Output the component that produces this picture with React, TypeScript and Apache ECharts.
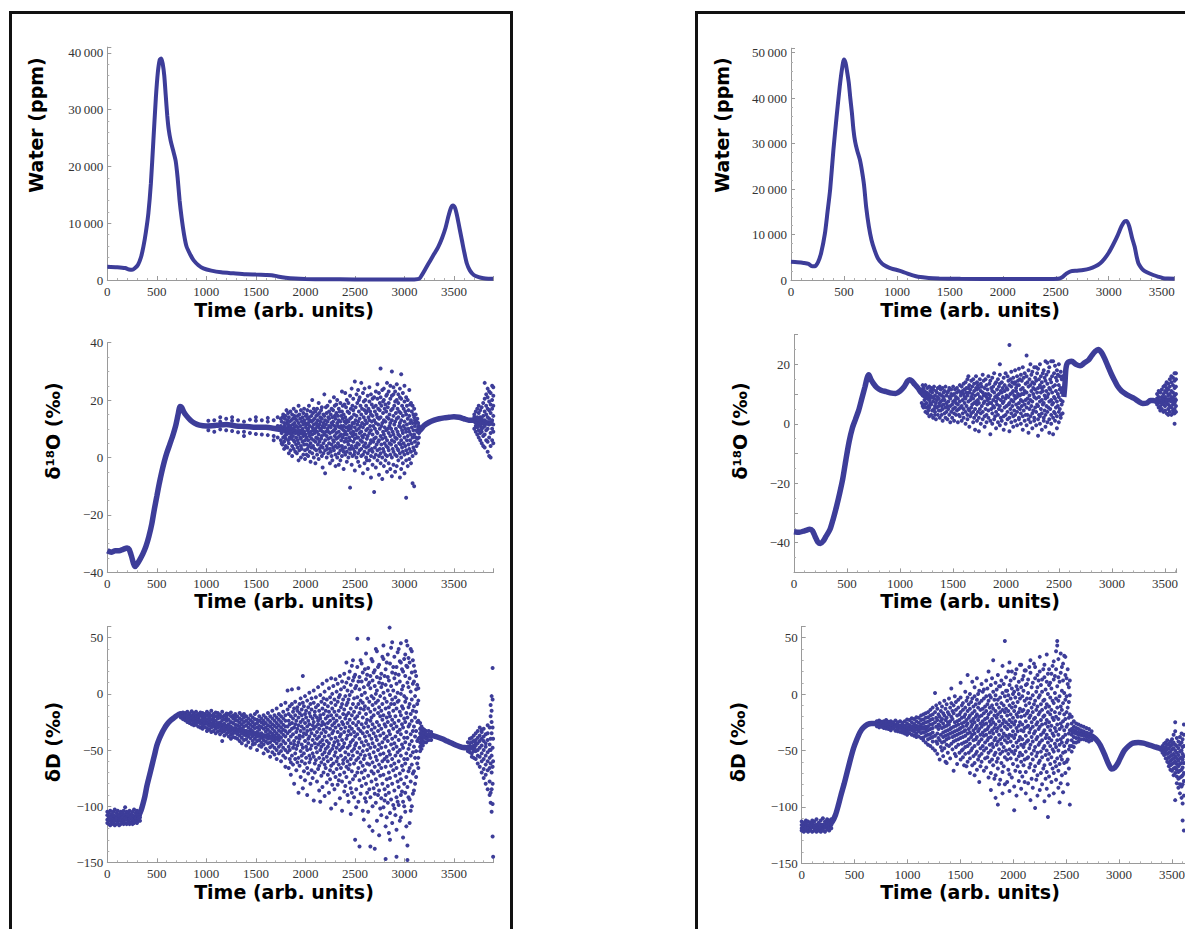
import React, { useEffect, useRef } from 'react';
import * as echarts from 'echarts';

// ---------- DATA ----------
const waterLeft: [number, number][] = [
  [0, 2350], [100, 2250], [180, 2100], [220, 1850], [250, 1800], [280, 2100], [310, 2700], [340, 4000],
  [365, 5900], [390, 8500], [415, 11800], [440, 17000], [465, 24500], [490, 32000], [510, 36500],
  [530, 38800], [545, 39000], [560, 38000], [575, 36000], [590, 32500], [605, 29000], [620, 26500],
  [640, 24500], [665, 22800], [690, 21000], [710, 18000], [730, 14000], [750, 11000], [775, 8000],
  [800, 5900], [840, 4400], [870, 3500], [920, 2600], [970, 2050], [1050, 1650], [1150, 1350],
  [1273, 1170], [1400, 1000], [1500, 950], [1600, 900], [1660, 850], [1720, 620], [1800, 400],
  [1900, 250], [2000, 180], [2200, 130], [2500, 100], [2800, 100], [3100, 110], [3150, 250],
  [3180, 1000], [3220, 2200], [3260, 3400], [3300, 4600], [3340, 5800], [3380, 7400], [3415, 9200],
  [3445, 11300], [3470, 12700], [3490, 13100], [3510, 12700], [3530, 11400], [3555, 9200],
  [3580, 7000], [3605, 4800], [3630, 2900], [3660, 1700], [3700, 880], [3750, 500], [3800, 300],
  [3850, 230], [3895, 200],
];

const waterRight: [number, number][] = [
  [0, 4000], [60, 3900], [120, 3750], [165, 3550], [195, 3050], [225, 3000], [255, 3900], [285, 6000],
  [320, 10200], [345, 15000], [370, 20000], [400, 28500], [430, 35800], [460, 42500], [480, 46200],
  [500, 48500], [515, 47800], [530, 45800], [545, 43500], [560, 40000], [575, 36800], [590, 33000],
  [605, 30500], [625, 28500], [650, 26500], [670, 24000], [690, 20800], [710, 16000], [735, 11800],
  [760, 8800], [790, 6500], [820, 4800], [860, 3600], [900, 3000], [950, 2500], [1000, 2200],
  [1050, 1850], [1100, 1400], [1150, 1000], [1200, 700], [1300, 450], [1400, 350], [1600, 250],
  [2000, 200], [2400, 200], [2520, 250], [2560, 600], [2600, 1400], [2640, 1900], [2700, 2050],
  [2760, 2200], [2820, 2500], [2870, 2950], [2920, 3700], [2960, 4700], [3000, 6000], [3040, 7700],
  [3080, 9600], [3120, 11800], [3150, 12900], [3170, 13000], [3195, 11700], [3220, 9300],
  [3245, 7300], [3265, 5000], [3280, 3700], [3300, 2900], [3325, 2200], [3360, 1700], [3420, 1100],
  [3470, 700], [3515, 400], [3560, 330], [3620, 300],
];

const o18LeftLineA: [number, number][] = [
  [0, -32.5], [40, -33], [80, -32.5], [120, -32.5], [160, -32], [200, -31.5], [220, -32], [245, -34.5],
  [265, -37], [280, -38], [300, -37.2], [330, -35.5], [360, -33.5], [390, -31], [420, -27.5],
  [450, -23], [475, -18], [500, -13.5], [525, -9], [550, -5], [575, -1.5], [600, 1.5], [630, 4.5],
  [660, 7.5], [690, 11], [715, 15], [735, 17.8], [750, 17.5], [770, 16], [800, 14.5], [840, 13],
  [880, 12], [930, 11.3], [1000, 11], [1100, 11.2], [1200, 11.5], [1300, 11], [1400, 10.8],
  [1500, 10.5], [1600, 10.5], [1700, 10], [1800, 9.5], [1900, 9], [2000, 8.5],
];
const o18LeftLineB: [number, number][] = [
  [3140, 9], [3170, 10], [3200, 11.2], [3250, 12.3], [3300, 13], [3350, 13.5], [3400, 13.8],
  [3450, 14], [3500, 14.2], [3550, 14], [3600, 13.5], [3650, 13], [3700, 13], [3750, 12.8],
  [3800, 12], [3850, 12], [3900, 12],
];
const o18LeftCloud: [number, number[]][] = [
  [1020, [9.5, 12.8]], [1080, [13, 9]], [1140, [12.5, 9.8, 14]], [1200, [13.5, 9.5]],
  [1260, [12.8, 9.2, 14]], [1320, [13, 8.8]], [1380, [12.5, 9, 7.5]], [1440, [13.2, 8.5]],
  [1500, [12.8, 8.2, 14]], [1560, [13, 8]], [1620, [12.5, 7.8, 13.8]], [1680, [13, 7.5, 6]],
  [1720, [14, 7, 11]],
  [1752, [6, 11, 13.5]], [1760, [8.5, 12.5, 5]], [1768, [4.5, 9.5, 14]], [1776, [7, 10.5, 15]],
  [1785, [5.5, 12, 3]], [1793, [9, 11, 13.5, 7.5]], [1801, [6.5, 14.5, 4, 10]], [1809, [8, 12, 16.5]],
  [1817, [3.5, 9.5, 13]], [1825, [6, 10.5, 15.5, 11.5]], [1833, [5, 8.5, 14, 1.5]], [1841, [7, 12.5, 10]],
  [1849, [2.5, 9, 16, 11]], [1857, [6.5, 13, 8]], [1866, [4, 10, 15, 0.5]], [1874, [7.5, 11.5, 13.5]],
  [1882, [3, 9.5, 17, 6]], [1890, [5.5, 12, 14.5, 10.5]], [1898, [8.5, 13.5, 2]], [1906, [4.5, 7, 11, 16]],
  [1914, [1.5, 9, 13]], [1922, [6, 10.5, 14.5, 3.5]], [1931, [5, 8, 12, 18, -1]], [1939, [2.5, 9.5, 15]],
  [1947, [7, 11, 13.5]], [1955, [4, 6.5, 16.5, 0]], [1963, [9, 12.5, 3]], [1971, [5.5, 10, 14]],
  [1979, [1, 7.5, 11.5, 15.5]], [1987, [4.5, 9, 13, 17]], [1996, [2.5, 6, 12, -0.5]], [2004, [8, 10.5, 14.5]],
  [2012, [4.5, 7, 11.5, 15, 1]], [2020, [3, 9.5, 13.5, 16.5]], [2028, [0.5, 6, 10, 12]], [2036, [4, 8.5, 14, 18]],
  [2044, [2, 7.5, 11, 13]], [2052, [5, 9, 16, -1.5]], [2061, [3.5, 6.5, 12.5, 14.5]], [2069, [1.5, 8, 10.5, 20]],
  [2077, [4, 9.5, 13, 15.5]], [2085, [0, 6, 11.5, 17]], [2093, [3, 8.5, 13.5, 9]], [2101, [5.5, 10, 16, -2]],
  [2109, [2.5, 7, 12, 14.5]], [2118, [1, 9, 11, 17]], [2126, [4.5, 6.5, 13, 15]], [2134, [-0.5, 8, 10.5, 19]],
  [2142, [3, 5.5, 11.5, 15.5]], [2150, [2, 9.5, 12.5, 14]], [2158, [6.5, 10, 16.5, 4]], [2166, [0.5, 7.5, 13.5, 17.5]],
  [2174, [3.5, 9, 11, -3.5]], [2182, [1.5, 5, 12, 15]], [2191, [8, 10.5, 14.5, 22]], [2199, [-5.5, 2.5, 6, 13]],
  [2207, [9, 11.5, 17.5]], [2215, [0, 4, 7.5, 15.5]], [2223, [3, 10, 12.5, 18]], [2231, [1.5, 6.5, 9, 14]],
  [2239, [5, 11, 13.5, 16]], [2248, [-2, 3, 8.5, 19.5]], [2256, [2, 7, 10.5, 15]], [2264, [0.5, 4.5, 12, 17]],
  [2272, [-1, 9, 11.5, 14]], [2280, [3.5, 6, 12.5, 16.5]], [2288, [2.5, 5.5, 9.5, 21]], [2296, [7.5, 11, 14.5, 18]],
  [2304, [-3, 1, 4, 10, 13.5]], [2312, [6.5, 8.5, 15.5, 18.5]], [2321, [0, 3.5, 12, 20]], [2329, [5, 7, 11, 14.5]],
  [2337, [1.5, 9, 13, 17, -2.5]], [2345, [4, 7.5, 10.5, 16]], [2353, [-1, 2.5, 12.5, 19]], [2361, [6, 8, 14.5, 11]],
  [2369, [0.5, 4, 10, 16, 23]], [2377, [3, 7, 13.5, 18]], [2386, [-4, 2, 9.5, 11, 15]], [2394, [5.5, 8, 12.5, 18.5]],
  [2402, [1, 3.5, 9, 14, 22.5]], [2410, [6.5, 10.5, 17.5, 12]], [2418, [-1.5, 2, 8, 13, 20]], [2426, [5.5, 10.5, 16]],
  [2434, [0, 4.5, 9.5, 12.5, 19]], [2442, [7, 11, 15.5, 3]], [2451, [-10.5, 1.5, 6, 13.5, 21.5]], [2459, [3, 10, 17, 8.5]],
  [2467, [-2.5, 4, 11, 14, 24]], [2475, [0.5, 7.5, 12, 18]], [2483, [3, 5.5, 9, 16.5, 20.5]], [2491, [1, 8, 12, 15]],
  [2499, [-4.5, 2, 6.5, 10.5, 26.5]], [2507, [4, 8, 13, 17.5]], [2516, [0, 3.5, 9.5, 14.5, 22]], [2524, [5, 11.5, 19, 7]],
  [2532, [-1.5, 1.5, 7, 12.5, 23.5]], [2540, [4.5, 10, 16, 20]], [2548, [-3, 2.5, 8.5, 13.5, 21]], [2556, [6, 11, 18]],
  [2564, [0.5, 3, 9, 15, 26]], [2572, [5.5, 12, 17, 7.5]], [2581, [-5.5, 1, 7, 10.5, 22.5]], [2589, [4, 14, 19.5]],
  [2597, [-2, 2, 8, 11.5, 16.5, 24]], [2605, [5, 13, 20]], [2613, [0, 3.5, 9.5, 15.5, 18]], [2621, [6.5, 12, 16, -1]],
  [2629, [-4, 1.5, 7.5, 10, 21.5]], [2637, [4, 14, 17]], [2646, [-1, 2.5, 8.5, 13, 19.5, 24.5]], [2654, [5, 11, 16]],
  [2662, [-7, 0.5, 6, 9.5, 15, 22]], [2670, [3, 12.5, 18.5]], [2678, [-2.5, 2, 8, 14.5, 20.5]], [2686, [5.5, 11, 17.5]],
  [2694, [-12, 0, 6.5, 13, 21]], [2702, [3.5, 10, 16]], [2711, [-3.5, 1, 7, 12, 18, 23]], [2719, [4.5, 9, 15]],
  [2727, [-1, 2.5, 8.5, 14, 20.5, 25.5]], [2735, [5.5, 11.5, 17]], [2743, [-6, 0.5, 6, 13.5, 22.5]], [2751, [3, 10, 16.5, 19]],
  [2759, [31, -2, 1.5, 7.5, 14, 21]], [2767, [4.5, 11, 18]], [2776, [-7.5, 0, 6.5, 12, 23.5]], [2784, [3, 9, 15.5, 19.5]],
  [2792, [-3, 2, 8, 13, 20, 24]], [2800, [5, 10.5, 17]], [2808, [-1, 1, 7, 12.5, 18.5]], [2816, [4, 9.5, 16, 21.5]],
  [2824, [-5, 0.5, 6, 14, 22, 26]], [2832, [3.5, 10, 17.5]], [2841, [-2, 2.5, 8.5, 13.5, 19, 23]], [2849, [5, 11, 15]],
  [2857, [-4, 1, 7.5, 12, 20.5, 25]], [2865, [4.5, 10, 16.5]], [2873, [30, -6.5, 0, 6, 13, 21.5]], [2881, [3, 9, 17]],
  [2889, [-2.5, 2, 8, 14.5, 22, 24.5]], [2897, [5.5, 11.5, 18]], [2906, [-5, 1, 7, 12.5, 19.5, 23]], [2914, [4, 10, 15.5]],
  [2922, [-3, 0.5, 6.5, 13.5, 20, 25.5]], [2930, [3, 9, 17]], [2938, [-1, 2.5, 8, 14, 19, 22]], [2946, [5, 11, 16]],
  [2954, [-7, 1.5, 7.5, 12, 21, 24]], [2962, [4.5, 10.5, 15.5]], [2967, [29, -4, 0, 6, 13, 20.5]], [2976, [3.5, 9.5, 18]],
  [2984, [-2, 2, 8.5, 14.5, 22.5]], [2992, [5, 11, 17]], [3000, [-5.5, 1, 7, 12.5, 19.5, 25]], [3008, [4, 10, 16]],
  [3017, [-14, -1, 2.5, 9, 15, 21]], [3025, [6, 11.5, 18]], [3033, [-3, 1.5, 7.5, 13.5, 20]], [3041, [4.5, 10, 16.5]],
  [3049, [-0.5, 3, 9, 14.5, 23.5]], [3057, [6, 12, 18.5]], [3066, [-2, 2, 8, 13, 19]], [3074, [5, 10.5, 16]],
  [3082, [-9, 0.5, 7, 12, 18]], [3090, [3.5, 9.5, 15]], [3098, [-10, 2.5, 8, 14, 17]], [3106, [5.5, 11, 13]],
  [3114, [1.5, 7, 12, 15]], [3122, [4, 9.5, 12.5]], [3130, [6.5, 9, 13.5]], [3138, [5, 10.5, 12]], [3146, [7, 8.5, 11]],
  [3705, [10, 12.5, 15, 14]], [3720, [9, 11, 13.5, 16, 12]], [3735, [8, 10.5, 12, 14, 17]],
  [3750, [7, 9.5, 13, 15.5, 11.5, 18]], [3765, [6, 8.5, 11, 14, 16.5, 12.5]],
  [3780, [5, 9, 12, 13.5, 17.5, 10]], [3795, [4, 7.5, 10.5, 14.5, 19, 12]],
  [3810, [3.5, 8, 11, 13, 16, 20.5, 26]], [3825, [6, 9.5, 12.5, 15, 18, 22]],
  [3840, [2, 5.5, 10, 14, 17, 21, 24]], [3855, [0.5, 7, 11.5, 13.5, 16.5, 19.5, 23]],
  [3870, [4, 8.5, 12, 15.5, 18.5, 22.5, 0]], [3885, [6, 10, 13, 17, 20, 25]],
  [3897, [5, 9, 11.5, 14.5, 18, 21.5, 24.5]],
];

const dLeftLineA: [number, number][] = [
  [0, -111], [100, -110.5], [200, -110], [300, -110], [320, -108], [340, -104], [360, -98], [380, -91],
  [400, -82], [425, -73], [450, -64], [475, -55], [500, -46], [525, -40], [550, -35], [575, -31],
  [600, -27.5], [635, -24], [670, -21.5], [700, -19.5], [730, -18], [760, -18.5], [800, -20],
  [850, -22.5], [950, -25], [1050, -27], [1150, -29], [1250, -31], [1350, -33], [1450, -35],
  [1550, -37], [1650, -38.5], [1750, -40],
];
const dLeftLineB: [number, number][] = [
  [3150, -40], [3180, -38], [3220, -37], [3270, -37], [3320, -38], [3380, -40], [3430, -42],
  [3480, -44], [3530, -46], [3580, -47.5], [3630, -48], [3680, -48], [3720, -47],
];
const dLeftCloud: [number, number[]][] = [
  [0, [-105, -108, -112, -115]], [15, [-106, -110, -113, -116]], [30, [-104, -109, -111, -117]],
  [45, [-107, -110, -114, -116]], [60, [-105, -108, -112, -115]], [75, [-103, -109, -113, -117]],
  [90, [-106, -110, -111, -116]], [105, [-104, -108, -114, -115]], [120, [-107, -109, -112, -117]],
  [135, [-105, -111, -113, -116]], [150, [-106, -108, -110, -115]], [165, [-104, -109, -113, -116]],
  [180, [-101, -107, -111, -115]], [195, [-105, -110, -112, -116]], [210, [-106, -108, -113, -115]],
  [225, [-104, -109, -111, -116]], [240, [-107, -110, -114, -115]], [255, [-105, -108, -112, -116]],
  [270, [-103, -109, -113, -115]], [285, [-106, -110, -111, -114]], [300, [-104, -108, -112, -115]],
  [315, [-105, -109, -111, -113]], [330, [-106, -108, -110, -113]],
  [742, [-17, -19.5, -21]], [764, [-16.5, -20, -22.5]], [786, [-17, -21, -23.5, -19]],
  [808, [-16, -19, -22, -25]], [830, [-17.5, -20.5, -23, -26]], [852, [-15.5, -19, -24, -27, -21.5]],
  [874, [-17, -20, -23, -25.5, -28]], [896, [-16, -21, -24.5, -27.5, -19]], [918, [-18, -22, -25, -29, -20.5]],
  [940, [-16.5, -19.5, -23.5, -26.5, -30]], [962, [-17, -21, -24, -28, -31, -18.5]],
  [984, [-18, -20.5, -25.5, -29.5, -23]], [1006, [-16, -19, -22.5, -26, -30.5, -33]],
  [1028, [-17.5, -21.5, -24.5, -28.5, -32, -20]], [1050, [-15, -19.5, -23, -27, -30, -34]],
  [1072, [-18, -21, -25, -29, -33, -23.5]], [1094, [-16.5, -20, -24, -27.5, -31, -35]],
  [1116, [-17, -22, -26, -30, -33.5, -19.5]], [1138, [-18.5, -21, -25.5, -28, -32.5, -36]],
  [1160, [-16, -20.5, -23.5, -27, -31, -34, -42]], [1182, [-19, -22.5, -26.5, -29.5, -33, -37]],
  [1204, [-17.5, -21, -24, -28.5, -32, -35.5, -20]], [1226, [-18, -23, -27, -30, -34, -38]],
  [1248, [-16.5, -20, -25, -29, -33, -36.5, -40]], [1270, [-19.5, -22, -26, -31, -35, -38.5]],
  [1292, [-18, -23.5, -27.5, -30.5, -34.5, -39, -21]], [1314, [-20, -24, -28, -32, -36, -40]],
  [1336, [-17, -22, -25.5, -29, -33.5, -37, -42]], [1358, [-19, -23, -27, -31, -35, -39, -44]],
  [1380, [-21, -25, -29, -32.5, -36.5, -41, -18]], [1402, [-20, -24, -28, -33, -37, -40.5, -46]],
  [1424, [-22, -26, -30, -34, -38, -43]], [1446, [-19, -23.5, -27.5, -31.5, -35.5, -39.5, -48]],
  [1468, [-21, -25, -29, -33, -37.5, -42, -45]], [1490, [-18, -22.5, -27, -30.5, -35, -40, -44.5]],
  [1512, [-23, -26, -30, -34, -38, -42, -50, -16]], [1534, [-20, -24, -28.5, -32, -36, -41, -46]],
  [1556, [-22, -25.5, -29.5, -35, -39, -43.5, -47]], [1578, [-19, -24, -27, -31, -37, -41, -45, -53]],
  [1600, [-21, -26, -30, -33.5, -38, -42.5, -49]], [1622, [-17, -23, -28, -32, -36, -40, -44, -51]],
  [1644, [-20, -25, -29, -34, -39, -43, -47.5, -56]], [1666, [-15, -22, -27, -31, -35.5, -41, -46, -52]],
  [1688, [-19, -24, -28.5, -33, -37, -42, -48, -54]], [1710, [-13, -21, -26, -30, -35, -39.5, -44, -50, -58]],
  [1732, [-18, -23, -28, -32.5, -37, -41.5, -47, -53]], [1754, [-10, -20, -25, -30, -34, -39, -45, -51, -60]],
  [1776, [-16, -22, -27.5, -32, -36.5, -42, -48, -55]], [1798, [-8, -19, -24, -29, -33, -38, -44, -50, -57, -65]],
  [1820, [3, -14, -29, -35, -52]], [1831, [-18, -24, -41, -47, -66]], [1842, [-11, -27, -33, -50, -58]],
  [1853, [-20, -38, -44, -61, -72]], [1864, [4, -9, -26, -31, -55]], [1875, [-16, -22, -36, -48, -63]],
  [1886, [-13, -30, -42, -45, -80]], [1897, [-7, -19, -27, -53, -58]], [1908, [-24, -34, -39, -49, -68]],
  [1919, [-12, -15, -31, -46, -61]], [1930, [5, -21, -28, -43, -57, -88]], [1941, [-9, -17, -37, -40, -64]],
  [1952, [-4, -25, -33, -51, -74]], [1963, [-14, -19, -29, -45, -55, -60]], [1974, [16, -8, -23, -38, -48, -84]],
  [1985, [-11, -31, -35, -53, -69]], [1996, [-2, -18, -26, -42, -62, -77]], [2007, [-15, -21, -36, -47, -57]],
  [2018, [-6, -29, -33, -50, -66, -90]], [2029, [-12, -24, -40, -44, -71]], [2040, [1, -17, -27, -38, -55, -61]],
  [2051, [-9, -20, -32, -49, -58, -80]], [2062, [-4, -14, -35, -46, -68]], [2073, [-22, -28, -41, -53, -75]],
  [2084, [3, -8, -25, -31, -56, -95]], [2095, [-16, -19, -37, -44, -62, -70]], [2106, [-3, -12, -29, -48, -59]],
  [2117, [-21, -34, -40, -52, -78]], [2128, [6, -10, -24, -27, -45, -67]], [2139, [-15, -31, -38, -57, -64, -86]],
  [2150, [-1, -19, -22, -43, -50, -96]], [2161, [-7, -28, -35, -47, -61, -73]], [2172, [9, -13, -25, -41, -54, -83]],
  [2183, [-4, -18, -32, -45, -58, -70]], [2194, [2, -9, -27, -38, -52, -63, -91]], [2205, [-15, -22, -34, -49, -66]],
  [2216, [12, -5, -30, -42, -56, -79]], [2227, [-11, -20, -26, -47, -60, -72]], [2238, [5, -16, -37, -44, -53, -88]],
  [2249, [-3, -24, -31, -51, -68, -76]], [2260, [14, -8, -19, -40, -58, -64, -102]], [2271, [0, -13, -28, -35, -49, -81]],
  [2282, [7, -22, -33, -46, -62, -70]], [2293, [-5, -16, -26, -43, -55, -85]], [2304, [13, -10, -30, -39, -52, -74, -98]],
  [2315, [2, -19, -24, -48, -60, -67]], [2326, [9, -7, -34, -42, -57, -81]], [2337, [-3, -15, -28, -45, -63, -77]],
  [2348, [16, -1, -21, -38, -50, -72, -93]], [2359, [4, -12, -31, -36, -55, -66]], [2370, [11, -9, -25, -41, -48, -78, -104]],
  [2381, [-5, -18, -27, -47, -59, -62]], [2392, [18, 6, -14, -34, -44, -70, -87]], [2403, [-2, -22, -30, -52, -57, -82]],
  [2414, [28, 10, -10, -19, -40, -65, -74]], [2425, [3, -8, -26, -37, -48, -60, -90]], [2436, [14, -5, -17, -33, -54, -67, -96]],
  [2447, [20, -1, -23, -29, -46, -63, -79]], [2458, [8, -13, -36, -43, -58, -84, -107]], [2469, [25, 2, -19, -31, -51, -69, -88]],
  [2480, [30, 12, -9, -26, -41, -55, -76]], [2491, [15, -4, -16, -34, -49, -62, -92]], [2502, [17, 5, -22, -38, -46, -73, -130]],
  [2513, [7, -12, -28, -44, -59, -85, -101]], [2524, [49, 24, -3, -20, -36, -52, -70]], [2535, [11, -9, -25, -31, -57, -66, -96]],
  [2546, [15, 4, -17, -40, -48, -77, -136]], [2557, [30, -6, -13, -33, -54, -61, -89]], [2568, [27, 11, -1, -27, -43, -70, -82]],
  [2579, [19, -8, -21, -35, -51, -64, -104]], [2590, [6, -14, -30, -46, -58, -75, -112]], [2601, [22, 1, -11, -38, -55, -68, -93]],
  [2612, [36, 13, -18, -26, -42, -80, -96]], [2623, [17, -4, -23, -34, -50, -62, -88]], [2634, [49, 23, 8, -13, -29, -45, -73, -105]],
  [2645, [10, -7, -37, -54, -63, -85, -118]], [2656, [16, 5, -16, -24, -48, -57, -92, -136]], [2667, [31, -2, -21, -32, -40, -69, -78]],
  [2678, [29, 12, -10, -27, -44, -61, -100, -122]], [2689, [19, -4, -19, -35, -52, -71, -84]], [2700, [21, 7, -14, -30, -47, -65, -89, -138]],
  [2711, [40, 0, -8, -38, -56, -76, -97]], [2722, [38, 15, 3, -25, -41, -59, -81, -113]], [2733, [24, -6, -17, -33, -50, -69, -90]],
  [2744, [26, 10, -12, -28, -45, -63, -86, -126]], [2755, [14, -2, -20, -37, -54, -73, -102]], [2766, [18, 6, -15, -31, -48, -66, -93, -108]],
  [2777, [33, 9, -9, -23, -43, -60, -80]], [2788, [43, 31, 1, -19, -35, -53, -72, -101]], [2799, [16, -4, -27, -40, -58, -85, -95]],
  [2810, [22, 8, -13, -29, -47, -65, -90, -118, -147]], [2821, [28, -7, -21, -38, -56, -76, -110]],
  [2832, [35, 15, 3, -25, -42, -60, -82, -97]], [2843, [12, -12, -17, -33, -51, -70, -88, -124]], [2850, [59]],
  [2854, [27, -1, -20, -36, -54, -75, -106, -130]], [2865, [41, 7, -9, -28, -45, -64, -94]],
  [2876, [46, 19, -5, -23, -40, -58, -80, -115]], [2887, [24, 3, -15, -31, -49, -68, -99]],
  [2898, [33, 14, -9, -26, -44, -62, -86, -102]], [2909, [18, -3, -20, -38, -55, -73, -108]],
  [2920, [24, 9, -13, -29, -47, -66, -92, -121, -145]], [2931, [37, 1, -7, -34, -52, -78, -96]],
  [2942, [40, 17, -6, -24, -41, -60, -83, -99]], [2953, [29, 11, -16, -32, -50, -71, -113]],
  [2964, [45, 28, 0, -19, -36, -55, -76, -90, -110]], [2975, [22, 4, -11, -27, -45, -64, -87]],
  [2986, [20, 7, -13, -30, -48, -68, -96, -128]], [2997, [31, -2, -22, -39, -58, -80, -100]],
  [3008, [35, 16, -7, -25, -43, -62, -88, -105]], [3019, [47, 25, -4, -17, -34, -53, -74, -118]],
  [3030, [43, 24, 10, -21, -39, -58, -83, -135, -148]], [3041, [32, 6, -12, -29, -49, -69, -92]],
  [3052, [28, 14, -9, -27, -45, -66, -94, -115]], [3063, [40, 2, -18, -36, -55, -78, -104]],
  [3074, [38, 19, -5, -24, -42, -63, -100]], [3085, [30, 9, -15, -33, -52, -71, -89]],
  [3096, [25, 11, -11, -29, -47, -69, -86]], [3107, [20, -2, -21, -38, -57, -80]],
  [3118, [16, 4, -16, -33, -51, -74]], [3129, [8, -9, -25, -42, -62]], [3140, [5, -6, -24, -40, -57, -66]],
  [3158, [-26, -31, -35, -39, -43, -47, -51]], [3172, [-29, -33, -37, -41, -45, -49]],
  [3186, [-31, -34, -38, -42, -46]], [3200, [-32, -35, -39, -43]], [3220, [-33, -36, -40, -43]],
  [3245, [-33, -37, -41]], [3270, [-34, -38, -41]],
  [3640, [-43, -47, -51]], [3660, [-40, -44, -49, -52]], [3680, [-39, -43, -47, -53, -56]],
  [3700, [-37, -42, -46, -51, -57]], [3720, [-35, -41, -46, -51, -58, -44]], [3740, [-33, -39, -44, -50, -55, -62]],
  [3760, [-30, -37, -42, -48, -56, -65]], [3780, [-34, -40, -46, -53, -60, -70, -32]],
  [3800, [-31, -38, -42, -50, -58, -67, -75]], [3820, [-36, -44, -47, -55, -63, -72, -80]],
  [3840, [-28, -35, -41, -52, -60, -68, -85]], [3860, [-30, -45, -50, -57, -66, -78, -90]],
  [3870, [-10, -20, -40, -62, -88, -97, -50]], [3880, [-2, -15, -25, -35, -55, -70, -85, -105]],
  [3890, [23, -5, -30, -48, -65, -80, -98, -127]], [3895, [-145, -60, -40]],
];

const o18RightLineA: [number, number][] = [
  [0, -36.3], [50, -36.5], [100, -36], [150, -35.5], [175, -36], [200, -38], [225, -39.8], [250, -40.3],
  [275, -39.5], [300, -38], [340, -35.5], [370, -32], [400, -28], [430, -23.5], [460, -18.5],
  [490, -12], [520, -6], [550, -1.5], [580, 1.5], [610, 4.5], [640, 8.5], [670, 12.5], [690, 15.5],
  [705, 16.5], [725, 15], [750, 13.5], [780, 12.2], [820, 11.3], [870, 10.8], [920, 10.3],
  [960, 10.2], [1000, 11], [1040, 12.5], [1070, 14.3], [1090, 14.8], [1110, 14.5], [1140, 13.2],
  [1170, 12], [1200, 10.5], [1250, 9], [1300, 8.5],
];
const o18RightLineB: [number, number][] = [
  [2545, 9], [2555, 13], [2565, 18.5], [2580, 20.5], [2620, 21], [2660, 20], [2700, 19.5],
  [2740, 20.5], [2780, 21.5], [2810, 23], [2840, 24.3], [2870, 25], [2900, 24], [2930, 22],
  [2960, 19.5], [2990, 17], [3020, 14.8], [3050, 12.8], [3090, 11], [3130, 10], [3170, 9.2],
  [3210, 8.5], [3250, 7.5], [3290, 6.8], [3330, 7], [3360, 7.8], [3390, 7.8], [3420, 7.5],
  [3460, 7.5], [3500, 8], [3550, 8], [3610, 8],
];
const o18RightCloud: [number, number[]][] = [
  [1205, [7, 11.5]], [1214, [9.5, 13, 6]], [1222, [5.5, 10, 12]], [1231, [8, 6.5, 11]], [1240, [4, 9, 13]],
  [1249, [7, 10.5, 5.5]], [1258, [3.5, 8.5, 12]], [1267, [6, 10, 4.5]], [1276, [5.5, 8, 12.5, 2.5]],
  [1285, [7, 9.5, 11]], [1294, [3, 6.5, 12]], [1303, [4.5, 9, 10.5]], [1312, [2, 7.5, 11.5]], [1321, [5, 8.5, 12.5]],
  [1330, [4, 6, 9.5, 3]], [1339, [7, 11, 1.5]], [1348, [5.5, 8, 10.5]], [1357, [3, 9, 12]], [1366, [6, 8.5, 4.5]],
  [1375, [2, 7, 10, 12.5]], [1384, [4.5, 7.5, 11.5]], [1393, [3, 6, 9.5]], [1402, [1, 5, 8, 12]], [1411, [6.5, 9, 10.5]],
  [1420, [3.5, 8, 11]], [1429, [2, 5.5, 12.5]], [1438, [4, 7, 9.5]], [1447, [6, 10.5, 1.5]], [1456, [5, 7.5, 11]],
  [1465, [3, 9, 12]], [1474, [0.5, 6, 8.5]], [1483, [4, 10, 11.5]], [1492, [2, 6.5, 9.5]], [1501, [5, 7.5, 12.5]],
  [1510, [1, 3.5, 10]], [1519, [5.5, 8, 11.5]], [1528, [3, 7, 9]], [1537, [4.5, 10.5, 12]], [1546, [0.5, 6.5, 8.5]],
  [1555, [3, 5, 11]], [1564, [2.5, 7.5, 13]], [1573, [5.5, 9.5, 10.5]], [1582, [1, 6, 12.5]], [1591, [3.5, 8, 11]],
  [1600, [2, 5, 10, 13.5]], [1609, [7, 9, 11.5]], [1618, [0, 4, 8.5, 14]], [1627, [6, 10.5, 12]],
  [1636, [1.5, 3, 9.5, 15]], [1645, [5, 7.5, 12, 16]], [1654, [-1, 4.5, 10.5, 13]], [1663, [2.5, 8, 11.5]],
  [1672, [3.5, 5.5, 9, 14.5]], [1681, [6.5, 10, 12.5]], [1690, [0.5, 4, 8.5, 15]], [1699, [2, 7, 11, 13.5]],
  [1708, [-2, 5, 9.5]], [1717, [3, 7.5, 12, 16]], [1726, [1, 6.5, 11.5, 14]], [1735, [4, 8, 10, 13]],
  [1744, [-2.5, 2, 7, 12]], [1753, [5, 9, 15]], [1762, [0, 3.5, 11, 13.5]], [1771, [6, 8.5, 12.5]],
  [1780, [1.5, 4, 10.5, 16.5]], [1789, [7, 9.5, 14.5]], [1798, [-1, 2.5, 7.5, 12]], [1807, [5, 10, 15]],
  [1816, [0.5, 3, 9, 13]], [1825, [6.5, 11.5, 8]], [1834, [2, 4.5, 10, 16]], [1843, [7, 8.5, 13.5]],
  [1852, [-3.5, 1, 9.5, 14.5]], [1861, [5, 7, 12]], [1870, [0, 3.5, 11, 15.5]], [1879, [6, 8, 12.5]],
  [1888, [1.5, 5.5, 10.5, 17]], [1897, [2.5, 9, 13.5]], [1906, [-1.5, 4, 7.5, 14]], [1915, [6.5, 11.5, 9.5]],
  [1924, [0.5, 3, 8.5, 15]], [1933, [5, 10, 12.5]], [1942, [20, -0.5, 6, 13.5, 16.5]], [1951, [2, 8, 11]],
  [1960, [1, 4.5, 10.5, 14]], [1969, [7, 9, 12]], [1978, [-2, 2.5, 7.5, 15.5]], [1987, [5.5, 11, 13]],
  [1996, [0, 3, 8.5, 17]], [2005, [6, 9.5, 12]], [2014, [1.5, 4, 11.5, 16]], [2023, [6.5, 9, 14.5]],
  [2032, [26.5, -2.5, 2, 7, 13]], [2041, [5, 10, 15]], [2050, [0.5, 3.5, 8, 12.5, 17.5]], [2059, [6, 10.5, 14]],
  [2068, [-1, 2.5, 7.5, 11, 15.5]], [2077, [4.5, 9.5, 13.5]], [2086, [1, 3, 8.5, 14, 18]], [2095, [6.5, 11, 12]],
  [2104, [-0.5, 4, 9, 16, 13]], [2113, [5.5, 10, 14.5]], [2122, [1.5, 2, 7, 13, 18.5]], [2131, [5, 9.5, 15]],
  [2140, [0, 3.5, 8, 11.5, 16.5]], [2149, [6, 14.5, 10]], [2158, [-2, 2.5, 7.5, 12, 19]], [2167, [4.5, 10, 15.5]],
  [2176, [1, 6.5, 11, 17]], [2185, [3, 8, 13.5]], [2194, [23, -0.5, 5.5, 10.5, 16]], [2203, [3, 8.5, 14]],
  [2212, [-3, 1.5, 7, 12.5, 18]], [2221, [5, 9.5, 15]], [2230, [0.5, 2.5, 8, 13, 20]], [2239, [6, 11, 16.5]],
  [2248, [-1.5, 3.5, 7.5, 14, 17.5]], [2257, [4.5, 10, 12]], [2266, [1, 2, 9, 13.5, 19]], [2275, [5.5, 11.5, 15.5]],
  [2284, [19, -0.5, 4, 8.5, 14.5]], [2293, [6.5, 10.5, 17]], [2302, [-4, 1.5, 6, 12, 18.5]], [2311, [3, 9, 15]],
  [2320, [0, 2.5, 7.5, 13, 20]], [2329, [5, 10.5, 16]], [2338, [-2, 3.5, 8, 14, 12]], [2347, [6.5, 11, 17]],
  [2356, [1, 2, 7, 12.5, 18]], [2364, [4.5, 9.5, 15.5]], [2372, [21, -1, 3, 8.5, 14.5]], [2381, [6, 11, 16.5]],
  [2390, [0.5, 4, 9, 13.5, 20.5]], [2399, [5.5, 10, 17.5]], [2408, [-3, 1.5, 7.5, 12, 19]], [2417, [5, 11.5, 15]],
  [2426, [0, 3, 8, 14, 21]], [2435, [6.5, 10.5, 16]], [2444, [-3.5, 2, 7, 12.5, 21]], [2453, [4, 9, 17]],
  [2462, [1, 3.5, 8.5, 13, 19.5]], [2471, [5.5, 11, 15.5]], [2480, [-1.5, 2.5, 7.5, 14.5, 18]], [2489, [6, 10, 16.5]],
  [2498, [0.5, 4, 9, 13, 20]], [2507, [5, 11.5, 16]], [2516, [2, 3, 8, 12, 17.5]], [2525, [6.5, 10.5, 15]],
  [2534, [3.5, 7.5, 11, 16]],
  [3425, [6.5, 8.5, 10]], [3440, [5.5, 7.5, 9, 11]], [3455, [6, 8, 10.5, 4.5]], [3470, [5, 7, 9, 11.5]],
  [3485, [4, 6.5, 8.5, 10, 12.5]], [3500, [4.5, 6, 9, 11, 13]], [3515, [3.5, 7, 8, 10.5, 12, 14]],
  [3530, [5, 6.5, 9.5, 11.5, 13.5, 3]], [3545, [4, 6, 8, 10, 12.5, 15]], [3560, [3, 5.5, 7.5, 9, 11, 14, 16]],
  [3575, [4.5, 6.5, 8.5, 10.5, 13, 15.5, 3.5]], [3590, [3.5, 5, 7, 9.5, 12, 14.5, 17, 0]],
  [3603, [4, 6, 8, 10, 12.5, 15, 17]],
];

const dRightLineA: [number, number][] = [
  [0, -117], [100, -117], [200, -116.5], [260, -116], [290, -113], [320, -107], [345, -99], [370, -90],
  [400, -80], [430, -69], [460, -58], [490, -48], [520, -40.5], [550, -34], [580, -30], [620, -27],
  [660, -26], [700, -26], [760, -26.5], [840, -27.5], [920, -28.5], [1000, -30], [1100, -30], [1200, -30],
];
const dRightLineB: [number, number][] = [
  [2550, -32], [2600, -34.5], [2650, -35.5], [2700, -35.5], [2740, -37], [2780, -40], [2820, -45],
  [2860, -53], [2900, -62], [2930, -66.5], [2960, -65], [2990, -61], [3020, -55], [3050, -50],
  [3090, -46], [3130, -43.5], [3180, -43], [3230, -43.5], [3280, -45], [3330, -46.5], [3380, -48],
  [3420, -50],
];
const dRightCloud: [number, number[]][] = [
  [0, [-113, -116, -119, -121]], [20, [-114, -117, -120, -122]], [40, [-112, -115, -118, -121]],
  [60, [-113, -117, -119, -122]], [80, [-114, -116, -120, -121]], [100, [-112, -115, -118, -122]],
  [120, [-113, -117, -119, -121]], [140, [-111, -116, -120, -122]], [160, [-114, -115, -118, -121]],
  [180, [-112, -117, -119, -122]], [200, [-110, -116, -120, -121]], [220, [-113, -115, -118, -122]],
  [240, [-111, -114, -117, -120]], [260, [-112, -115, -118, -121]], [280, [-111, -114, -116, -119]],
  [710, [-24, -26.5, -28.5]], [732, [-23.5, -27, -29.5]], [754, [-24.5, -26, -29]], [776, [-24, -27.5, -30]],
  [798, [-23, -26, -28.5, -30.5]], [820, [-24.5, -27, -29.5, -31]], [842, [-24, -26.5, -30, -32]],
  [864, [-25, -28, -30.5]], [886, [-23.5, -27, -29, -32.5]], [908, [-25, -27.5, -31, -33]],
  [930, [-24, -28.5, -30, -33.5]], [952, [-25.5, -27, -31.5, -34]], [974, [-24, -28, -32, -35]],
  [996, [-22.5, -26, -29.5, -33, -36]], [1018, [-23, -27.5, -31, -34.5]], [1040, [-21.5, -25, -28.5, -32, -36]],
  [1062, [-22, -26.5, -30, -33.5, -37]], [1084, [-20.5, -24, -28, -31.5, -35, -38]],
  [1106, [-21, -25.5, -29, -33, -37.5]], [1128, [-19, -23, -27, -30.5, -34.5, -39]],
  [1150, [-18, -22.5, -26, -30, -34, -38.5, -41]], [1172, [-17, -21, -25, -29, -33.5, -37, -43]],
  [1194, [-16, -20.5, -24.5, -28.5, -32, -36, -40, -45]], [1216, [-14, -19, -23, -27, -31, -35.5, -39, -46]],
  [1238, [-12, -18, -22, -26.5, -30, -34, -38, -42, -48]],
  [1260, [1, -16, -25, -37, -50]], [1271, [-10, -21, -29, -42]], [1282, [-13, -23, -35, -44, -53]],
  [1293, [-18, -27, -31, -39]], [1304, [-8, -20, -28, -41, -58]], [1315, [-15, -24, -36, -47]],
  [1326, [-11, -22, -30, -43, -50]], [1337, [-17, -26, -34, -38, -55]], [1348, [-6, -19, -29, -42, -48]],
  [1359, [-13, -23, -33, -37, -60]], [1370, [-9, -21, -28, -40, -45, -61]], [1381, [-16, -25, -32, -36, -52]],
  [1392, [-4, -18, -27, -39, -46]], [1403, [-12, -24, -31, -35, -57]], [1414, [5, -8, -20, -30, -44]],
  [1425, [-15, -22, -34, -38, -49]], [1436, [-10, -17, -29, -42, -68]], [1447, [-2, -25, -33, -37, -53]],
  [1458, [-7, -14, -28, -41, -47, -55]], [1469, [-19, -24, -32, -36, -62]], [1480, [-5, -12, -27, -40, -45]],
  [1491, [-18, -23, -31, -35, -52]], [1502, [10, -3, -16, -30, -39, -58]], [1513, [-10, -21, -26, -34, -44, -50]],
  [1524, [-8, -14, -29, -38, -49, -56]], [1535, [-20, -25, -33, -43, -63]], [1546, [2, -12, -18, -32, -37, -47, -53]],
  [1557, [-6, -23, -28, -42, -64]], [1568, [17, -3, -15, -26, -35, -46, -60]], [1579, [-9, -21, -31, -40, -52]],
  [1590, [0, -13, -19, -34, -44, -57, -70]], [1601, [-7, -24, -29, -38, -50]], [1612, [11, -4, -17, -27, -36, -48, -63]],
  [1623, [-11, -22, -32, -41, -55]], [1634, [6, -2, -15, -25, -35, -46, -61, -72]], [1645, [-9, -20, -30, -40, -53]],
  [1656, [14, -5, -18, -28, -38, -51, -67]], [1667, [0, -12, -23, -33, -44, -58]], [1678, [3, -8, -20, -31, -42, -55, -78]],
  [1689, [-14, -26, -36, -48, -64]], [1700, [9, -6, -19, -29, -40, -53, -60]], [1711, [2, -13, -24, -34, -46]],
  [1722, [4, -4, -17, -27, -37, -50, -68]], [1733, [-11, -22, -32, -43, -57]], [1744, [12, -2, -15, -26, -36, -48, -65]],
  [1755, [5, -9, -21, -31, -41, -56]], [1766, [20, -6, -18, -29, -39, -52, -74]], [1777, [-1, -12, -24, -34, -45, -60]],
  [1788, [8, -3, -16, -27, -38, -50, -70, -85]], [1799, [14, -10, -22, -32, -44, -58]], [1810, [30, 2, -13, -25, -35, -47, -63]],
  [1821, [-5, -19, -30, -41, -54, -75]], [1832, [10, -1, -15, -27, -39, -52, -72, -92]], [1843, [4, -9, -21, -33, -45, -60]],
  [1854, [17, -5, -18, -30, -42, -57, -66, -98]], [1865, [7, -12, -24, -36, -49, -80]], [1876, [7, -3, -16, -28, -40, -53, -76]],
  [1887, [12, -8, -20, -32, -44, -61]], [1898, [25, 1, -14, -26, -38, -51, -69, -88]], [1909, [9, -10, -23, -35, -47, -64]],
  [1920, [47, -2, -16, -29, -41, -56, -80]], [1931, [15, 3, -13, -25, -37, -50]], [1942, [3, -6, -19, -31, -43, -58, -78]],
  [1953, [20, -1, -15, -27, -39, -53, -67]], [1964, [28, 8, -10, -23, -36, -49, -71, -86]], [1975, [12, -4, -18, -29, -42, -57]],
  [1986, [20, 5, -12, -25, -37, -51, -74]], [1997, [0, -8, -21, -33, -46, -62]], [2008, [14, 2, -15, -27, -39, -53, -82, -103]],
  [2019, [18, -3, -11, -24, -36, -50, -68]], [2030, [22, 7, -18, -30, -43, -58, -90]], [2041, [4, -7, -20, -33, -47, -64]],
  [2052, [11, 0, -16, -28, -41, -55, -77]], [2063, [26, -4, -13, -25, -38, -52, -69]], [2074, [26, 6, -20, -32, -45, -60, -84]],
  [2085, [13, -2, -15, -27, -40, -54, -73]], [2096, [16, 3, -14, -33, -47, -63]], [2107, [21, -6, -19, -30, -44, -58, -78]],
  [2118, [21, 8, -10, -24, -37, -51, -69, -88]], [2129, [9, -4, -17, -29, -42, -57]], [2140, [13, 1, -15, -28, -41, -56, -79]],
  [2151, [24, -8, -21, -34, -48, -65]], [2162, [30, 19, -4, -19, -31, -45, -62, -94]], [2173, [6, -12, -25, -38, -53, -75]],
  [2184, [10, -1, -16, -29, -42, -58, -83]], [2195, [27, -9, -22, -35, -50, -68]], [2206, [24, 14, -6, -21, -33, -47, -64, -101]],
  [2217, [2, -14, -27, -40, -55, -76]], [2228, [17, 6, -11, -25, -38, -52, -72, -90]], [2239, [12, -3, -18, -31, -45, -61]],
  [2250, [33, 20, -1, -16, -29, -43, -59, -85]], [2261, [8, -9, -23, -36, -51, -70]], [2272, [13, 2, -14, -27, -41, -56, -80]],
  [2283, [22, -6, -20, -34, -48, -66]], [2294, [26, 15, -5, -19, -32, -46, -63, -95]], [2305, [4, -12, -26, -39, -54, -75]],
  [2316, [35, 11, -9, -23, -36, -50, -69, -84]], [2327, [18, 0, -16, -29, -43, -58, -109]], [2338, [22, 8, -11, -25, -39, -53, -73, -90]],
  [2349, [10, -3, -18, -32, -46, -62]], [2360, [18, 5, -14, -28, -41, -56, -78]], [2371, [25, -6, -21, -35, -49, -66]],
  [2382, [29, 13, -8, -23, -37, -51, -70, -88]], [2393, [16, 1, -16, -30, -44, -60]], [2404, [38, 22, -4, -20, -33, -47, -64, -76]],
  [2415, [47, 43, 7, -12, -27, -41, -57]], [2426, [31, 15, -6, -22, -36, -50, -68, -83]], [2437, [11, -2, -17, -31, -45, -62, -96]],
  [2448, [36, 19, -11, -26, -40, -55, -79]], [2459, [24, 3, -14, -29, -43, -58, -72]], [2470, [27, 12, -8, -24, -38, -52, -87]],
  [2481, [34, 1, -18, -32, -46, -61]], [2492, [33, 17, -5, -22, -36, -51, -70]], [2503, [14, -2, -16, -29, -43, -60]],
  [2514, [22, 9, -12, -27, -41, -58, -80]], [2525, [6, -7, -21, -35, -49, -66]], [2534, [12, -1, -18, -32, -46, -98]],
  [2552, [-20, -26, -31, -36, -41, -46, -51]], [2572, [-24, -29, -33, -38, -43, -47]], [2594, [-26, -30, -34, -39, -43]],
  [2616, [-27, -31, -35, -39, -42]], [2640, [-28, -32, -36, -40]], [2665, [-29, -33, -37, -40]],
  [2690, [-30, -34, -38, -41]], [2715, [-31, -35, -39, -42]], [2740, [-33, -37, -41]],
  [3410, [-46, -49, -52]], [3425, [-44, -48, -51, -54]], [3440, [-43, -47, -50, -53, -57]],
  [3455, [-41, -45, -49, -53, -57, -60]], [3470, [-44, -48, -52, -56, -61, -64]],
  [3485, [-42, -46, -51, -55, -59, -63, -67]], [3500, [-40, -45, -49, -54, -58, -62, -68]],
  [3515, [-36, -43, -48, -53, -57, -61, -66, -72]], [3530, [-25, -33, -45, -50, -55, -60, -65, -70, -94]],
  [3545, [-39, -46, -52, -57, -62, -67, -73, -79]], [3560, [-42, -48, -54, -59, -64, -69, -75, -83]],
  [3575, [-38, -45, -51, -57, -62, -68, -74, -80, -88]], [3590, [-35, -43, -50, -56, -61, -67, -73, -82, -92]],
  [3600, [-40, -47, -53, -58, -65, -72, -80, -97, -112]], [3612, [-27, -36, -46, -55, -61, -70, -77, -90, -121]],
];

const xTitle = 'Time (arb. units)';
const yTitles = ['Water (ppm)', 'δ¹⁸O (‰)', 'δD (‰)'];

// ---------- HELPERS ----------
const COLOR = '#3d3d99';
const toPts = (c: [number, number[]][]) => c.flatMap(([x, ys]) => ys.map((y) => [x, y]));

const fmt = (step: number) => (v: number) => {
  if (Math.abs(v % step) > 1e-9) return '';
  const a = Math.abs(v);
  let s = String(a);
  if (a >= 10000) s = String(Math.floor(a / 1000)) + '\u2009' + String(a % 1000).padStart(3, '0');
  return v < 0 ? '\u2212' + s : s;
};

const labelStyle = { fontFamily: 'Liberation Serif', fontSize: 13, color: '#333' };
const axisLineStyle = { color: '#9a9a9a', width: 1 };

function xAx(idx: number, max: number) {
  return {
    type: 'value', gridIndex: idx, min: 0, max, interval: 500,
    axisLine: { show: true, onZero: false, lineStyle: axisLineStyle },
    axisTick: { show: true, inside: true, length: 4, lineStyle: axisLineStyle },
    minorTick: { show: true, splitNumber: 5, length: 2, lineStyle: { color: '#b0b0b0' } },
    splitLine: { show: false }, minorSplitLine: { show: false },
    axisLabel: { ...labelStyle, margin: 5, formatter: fmt(500) },
  };
}
function yAx(idx: number, min: number, max: number, interval: number, step: number, minor: number) {
  return {
    type: 'value', gridIndex: idx, min, max, interval,
    axisLine: { show: true, onZero: false, lineStyle: axisLineStyle },
    axisTick: { show: true, inside: true, length: 4, lineStyle: axisLineStyle },
    minorTick: { show: true, splitNumber: minor, length: 2, lineStyle: { color: '#b0b0b0' } },
    splitLine: { show: false }, minorSplitLine: { show: false },
    axisLabel: { ...labelStyle, margin: 4, formatter: fmt(step) },
  };
}
function lineS(idx: number, data: [number, number][], width: number) {
  return {
    type: 'line', xAxisIndex: idx, yAxisIndex: idx, data, showSymbol: false, symbol: 'none',
    smooth: 0.25, lineStyle: { color: COLOR, width }, itemStyle: { color: COLOR }, silent: true, z: 2,
  };
}
function scatS(idx: number, cloud: [number, number[]][]) {
  return {
    type: 'scatter', xAxisIndex: idx, yAxisIndex: idx, data: toPts(cloud), symbolSize: 4,
    itemStyle: { color: COLOR, opacity: 1 }, silent: true, z: 3,
  };
}
const grid = (left: number, top: number, width: number, height: number) => ({
  left, top, width, height, containLabel: false, outerBoundsMode: 'none',
});

const titleFont = { fontFamily: 'DejaVu Sans', fontWeight: 'bold', fontSize: 19, fill: '#000' };
const txt = (x: number, y: number, text: string, rot: boolean) => ({
  type: 'text', x, y, rotation: rot ? Math.PI / 2 : 0, silent: true,
  style: { ...titleFont, text, align: 'center', verticalAlign: 'middle' },
});

export default function App() {
  const ref = useRef<HTMLDivElement>(null);
  useEffect(() => {
    const chart = echarts.init(ref.current as HTMLDivElement, null, { renderer: 'svg' });
    const option: any = {
      animation: false,
      backgroundColor: '#ffffff',
      grid: [
        grid(107.3, 47.1, 386.3, 232.9),
        grid(107.3, 342.7, 386.3, 229.6),
        grid(107.3, 626.5, 386.3, 235.8),
        grid(791, 48.2, 383.4, 231.8),
        grid(794, 334.6, 382.7, 237.8),
        grid(801.7, 626.4, 386.2, 236.9),
      ],
      xAxis: [xAx(0, 3900), xAx(1, 3900), xAx(2, 3900), xAx(3, 3620), xAx(4, 3610), xAx(5, 3650)],
      yAxis: [
        yAx(0, 0, 41000, 10000, 10000, 5),
        yAx(1, -40, 40, 20, 20, 4),
        yAx(2, -150, 60, 50, 50, 5),
        yAx(3, 0, 51000, 10000, 10000, 5),
        yAx(4, -50, 30, 10, 20, 2),
        yAx(5, -150, 60, 50, 50, 5),
      ],
      series: [
        lineS(0, waterLeft, 4),
        lineS(1, o18LeftLineA, 5.5), lineS(1, o18LeftLineB, 5.5), scatS(1, o18LeftCloud),
        lineS(2, dLeftLineA, 5.5), lineS(2, dLeftLineB, 5.5), scatS(2, dLeftCloud),
        lineS(3, waterRight, 4),
        lineS(4, o18RightLineA, 5.5), lineS(4, o18RightLineB, 5.5), scatS(4, o18RightCloud),
        lineS(5, dRightLineA, 5.5), lineS(5, dRightLineB, 5.5), scatS(5, dRightCloud),
      ],
      graphic: [
        { type: 'rect', silent: true, shape: { x: 10.5, y: 12.5, width: 501, height: 1000 },
          style: { fill: 'none', stroke: '#111', lineWidth: 3 } },
        { type: 'rect', silent: true, shape: { x: 696.5, y: 12.5, width: 600, height: 1000 },
          style: { fill: 'none', stroke: '#111', lineWidth: 3 } },
        txt(35.5, 125, yTitles[0], true),
        txt(53, 431, yTitles[1], true),
        txt(53, 742, yTitles[2], true),
        txt(722, 125, yTitles[0], true),
        txt(740, 431, yTitles[1], true),
        txt(738, 742, yTitles[2], true),
        txt(284, 310, xTitle, false),
        txt(284, 601, xTitle, false),
        txt(284, 892, xTitle, false),
        txt(970, 310, xTitle, false),
        txt(970, 601, xTitle, false),
        txt(970, 892, xTitle, false),
      ],
    };
    chart.setOption(option);
    return () => chart.dispose();
  }, []);
  return <div ref={ref} style={{ position: 'absolute', left: 0, top: 0, width: 1185, height: 929 }} />;
}
